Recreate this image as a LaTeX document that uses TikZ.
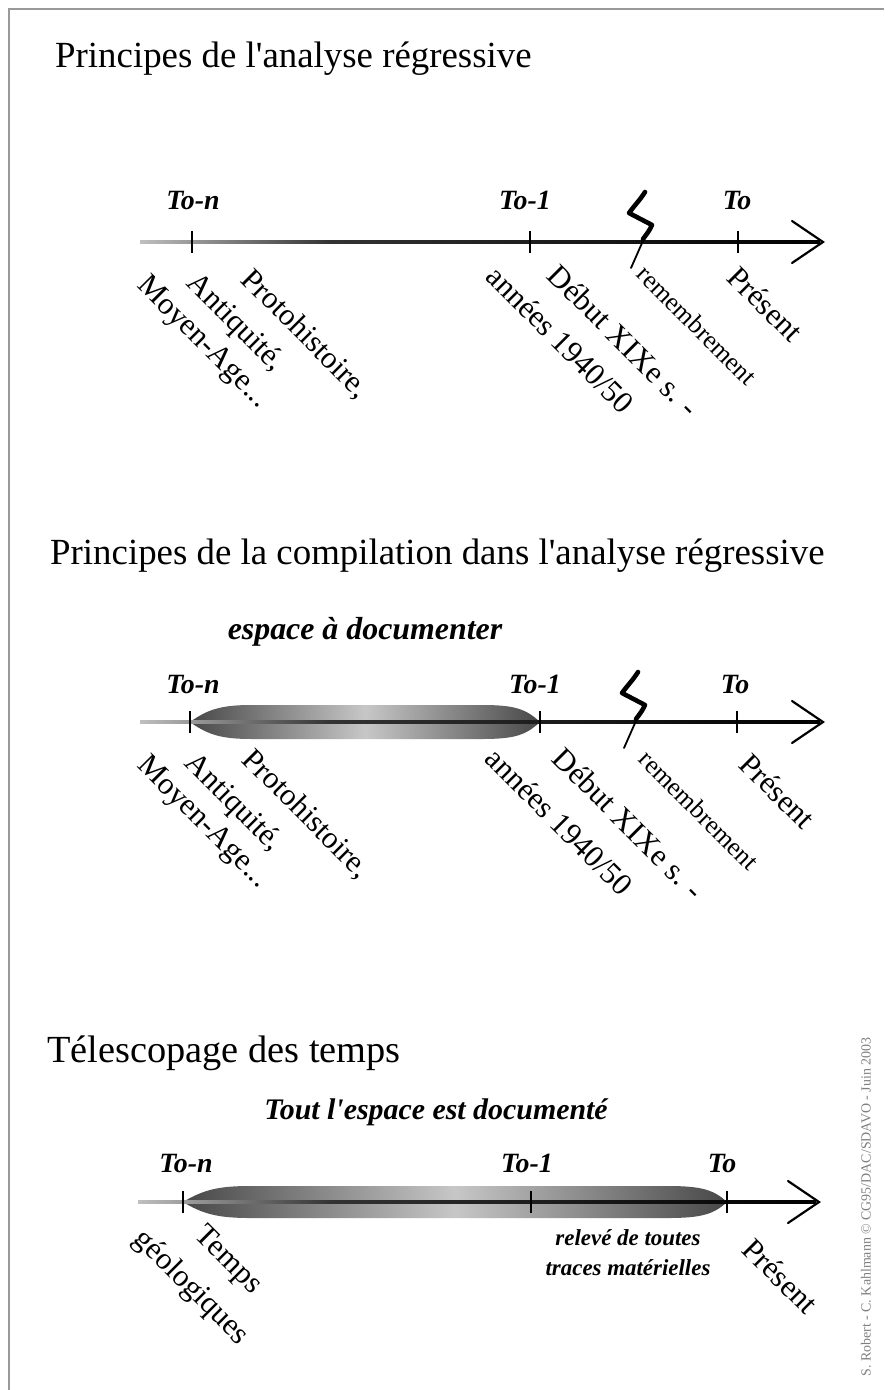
\documentclass[tikz,border=0pt]{standalone}
\usepackage{fontspec}
\setmainfont{Liberation Serif}
\begin{document}
\begin{tikzpicture}[x=1bp,y=-1bp]
\tikzset{
  ttl/.style={anchor=base west, inner sep=0pt, font=\fontsize{37}{42}\selectfont},
  tlbl/.style={anchor=base, inner sep=0pt, font=\bfseries\itshape\fontsize{28}{32}\selectfont},
  sublbl/.style={anchor=base, inner sep=0pt, font=\bfseries\itshape\fontsize{30}{34}\selectfont},
  smlbl/.style={anchor=base, inner sep=0pt, font=\bfseries\itshape\fontsize{23}{27}\selectfont},
  lbl/.style={anchor=north west, inner sep=0pt, rotate=-45, font=\fontsize{31}{35}\selectfont},
  lblsm/.style={lbl, font=\fontsize{26}{30}\selectfont},
  tickln/.style={line width=1.3bp, black},
  chevron/.style={line width=2.2bp, line cap=round, line join=miter},
  zig/.style={line width=4.6bp, line join=round, line cap=round},
  zigtail/.style={line width=1.8bp, line cap=round},
  lens/.style={left color=black!72, right color=black!72, middle color=black!22},
  barA/.style={left color=black!25, right color=black!80},
  barB/.style={left color=black!80, right color=black},
}
\useasboundingbox (0,0) rectangle (884,1390);
\fill[white] (0,0) rectangle (884,1390);
% frame (top and left edges)
\draw[line width=2bp, black!40] (9,1390) -- (9,9) -- (884,9);

% ---------- Titles ----------
\node[ttl] (title1) at (55,68) {Principes de l\textquotesingle analyse régressive};
\node[ttl] (title2) at (50,564) {Principes de la compilation dans l\textquotesingle analyse régressive};
\node[ttl, font=\fontsize{38.5}{42}\selectfont] (title3) at (47,1062) {Télescopage des temps};

% ---------- Timeline 1 ----------
\coordinate (a1e) at (823,242);
\coordinate (k1n) at (192,242);
\coordinate (k1m) at (530,242);
\coordinate (k1o) at (738,242);
\shade[barA] (140,240.7) rectangle (330,243.3);
\shade[barB] (330,240.7) rectangle (820,243.3);
\draw[chevron] (a1e) ++(-31,-21) -- (a1e) -- ++(-31,21);
\foreach \k in {k1n,k1m,k1o} \draw[tickln] (\k) ++(0,-11) -- ++(0,22);
\node[tlbl] (to1n) at (193,210) {To-n};
\node[tlbl] (to1m) at (525,210) {To-1};
\node[tlbl] (to1o) at (737,210) {To};
\draw[zig] (645,192) .. controls (640,200) and (634,206) .. (629,213) -- (652,225) .. controls (649,231) .. (643,239);
\draw[zigtail] (646,234) -- (631,268);
\node[lbl] (l1a) at (151,272) {Moyen-Age...};
\node[lbl] (l1b) at (201,269) {Antiquité,};
\node[lbl] (l1c) at (255,266) {Protohistoire,};
\node[lbl] (l1d) at (500,263) {années 1940/50};
\node[lbl] (l1e) at (561,262) {Début XIXe s. -};
\node[lblsm] (l1f) at (648,263) {remembrement};
\node[lbl] (l1g) at (741,264) {Présent};

% ---------- Timeline 2 ----------
\coordinate (a2e) at (823,722);
\coordinate (k2n) at (190,722);
\coordinate (k2m) at (540,722);
\coordinate (k2o) at (737,722);
\node[sublbl, font=\bfseries\itshape\fontsize{32}{36}\selectfont] (esp) at (365,639) {espace à documenter};
\shade[lens] (190,722) .. controls (208,709) and (222,705) .. (252,705) -- (482,705)
   .. controls (515,705) and (526,709) .. (540,722)
   .. controls (526,735) and (515,739) .. (482,739) -- (252,739)
   .. controls (222,739) and (208,735) .. (190,722) -- cycle;
\shade[barA] (140,720.7) rectangle (330,723.3);
\shade[barB] (330,720.7) rectangle (820,723.3);
\draw[chevron] (a2e) ++(-31,-21) -- (a2e) -- ++(-31,21);
\foreach \k in {k2n,k2m,k2o} \draw[tickln] (\k) ++(0,-11) -- ++(0,22);
\node[tlbl] (to2n) at (193,693) {To-n};
\node[tlbl] (to2m) at (535,693) {To-1};
\node[tlbl] (to2o) at (735,693) {To};
\draw[zig] (638,672) .. controls (633,680) and (627,686) .. (622,693) -- (645,705) .. controls (642,711) .. (636,719);
\draw[zigtail] (639,714) -- (624,748);
\node[lbl] (l2a) at (151,752) {Moyen-Age...};
\node[lbl] (l2b) at (199,749) {Antiquité,};
\node[lbl] (l2c) at (256,746) {Protohistoire,};
\node[lbl] (l2d) at (499,745) {années 1940/50};
\node[lbl] (l2e) at (566,745) {Début XIXe s. -};
\node[lblsm] (l2f) at (650,748) {remembrement};
\node[lbl] (l2g) at (753,751) {Présent};

% ---------- Timeline 3 ----------
\coordinate (a3e) at (819,1202);
\coordinate (k3n) at (183,1202);
\coordinate (k3m) at (531,1202);
\coordinate (k3o) at (727,1202);
\node[sublbl] (tout) at (436,1119) {Tout l\textquotesingle espace est documenté};
\shade[lens] (183,1202) .. controls (203,1190) and (218,1186) .. (250,1186) -- (668,1186)
   .. controls (702,1186) and (714,1190) .. (727,1202)
   .. controls (714,1214) and (702,1218) .. (668,1218) -- (250,1218)
   .. controls (218,1218) and (203,1214) .. (183,1202) -- cycle;
\shade[barA] (138,1200.7) rectangle (330,1203.3);
\shade[barB] (330,1200.7) rectangle (816,1203.3);
\draw[chevron] (a3e) ++(-31,-21) -- (a3e) -- ++(-31,21);
\foreach \k in {k3n,k3m,k3o} \draw[tickln] (\k) ++(0,-11) -- ++(0,22);
\node[tlbl] (to3n) at (186,1172) {To-n};
\node[tlbl] (to3m) at (527,1172) {To-1};
\node[tlbl] (to3o) at (722,1172) {To};
\node[smlbl] (rel1) at (628,1245) {relevé de toutes};
\node[smlbl] (rel2) at (628,1275) {traces matérielles};
\node[lbl] (l3a) at (148,1225) {géologiques};
\node[lbl] (l3b) at (208,1222) {Temps};
\node[lbl] (l3c) at (756,1236) {Présent};

% ---------- credit ----------
\node[rotate=90, inner sep=0pt, text=black!50, font=\fontsize{14}{16}\selectfont] (credit) at (866,1207) {S. Robert - C. Kahlmann © CG95/DAC/SDAVO - Juin 2003};
\end{tikzpicture}
\end{document}
